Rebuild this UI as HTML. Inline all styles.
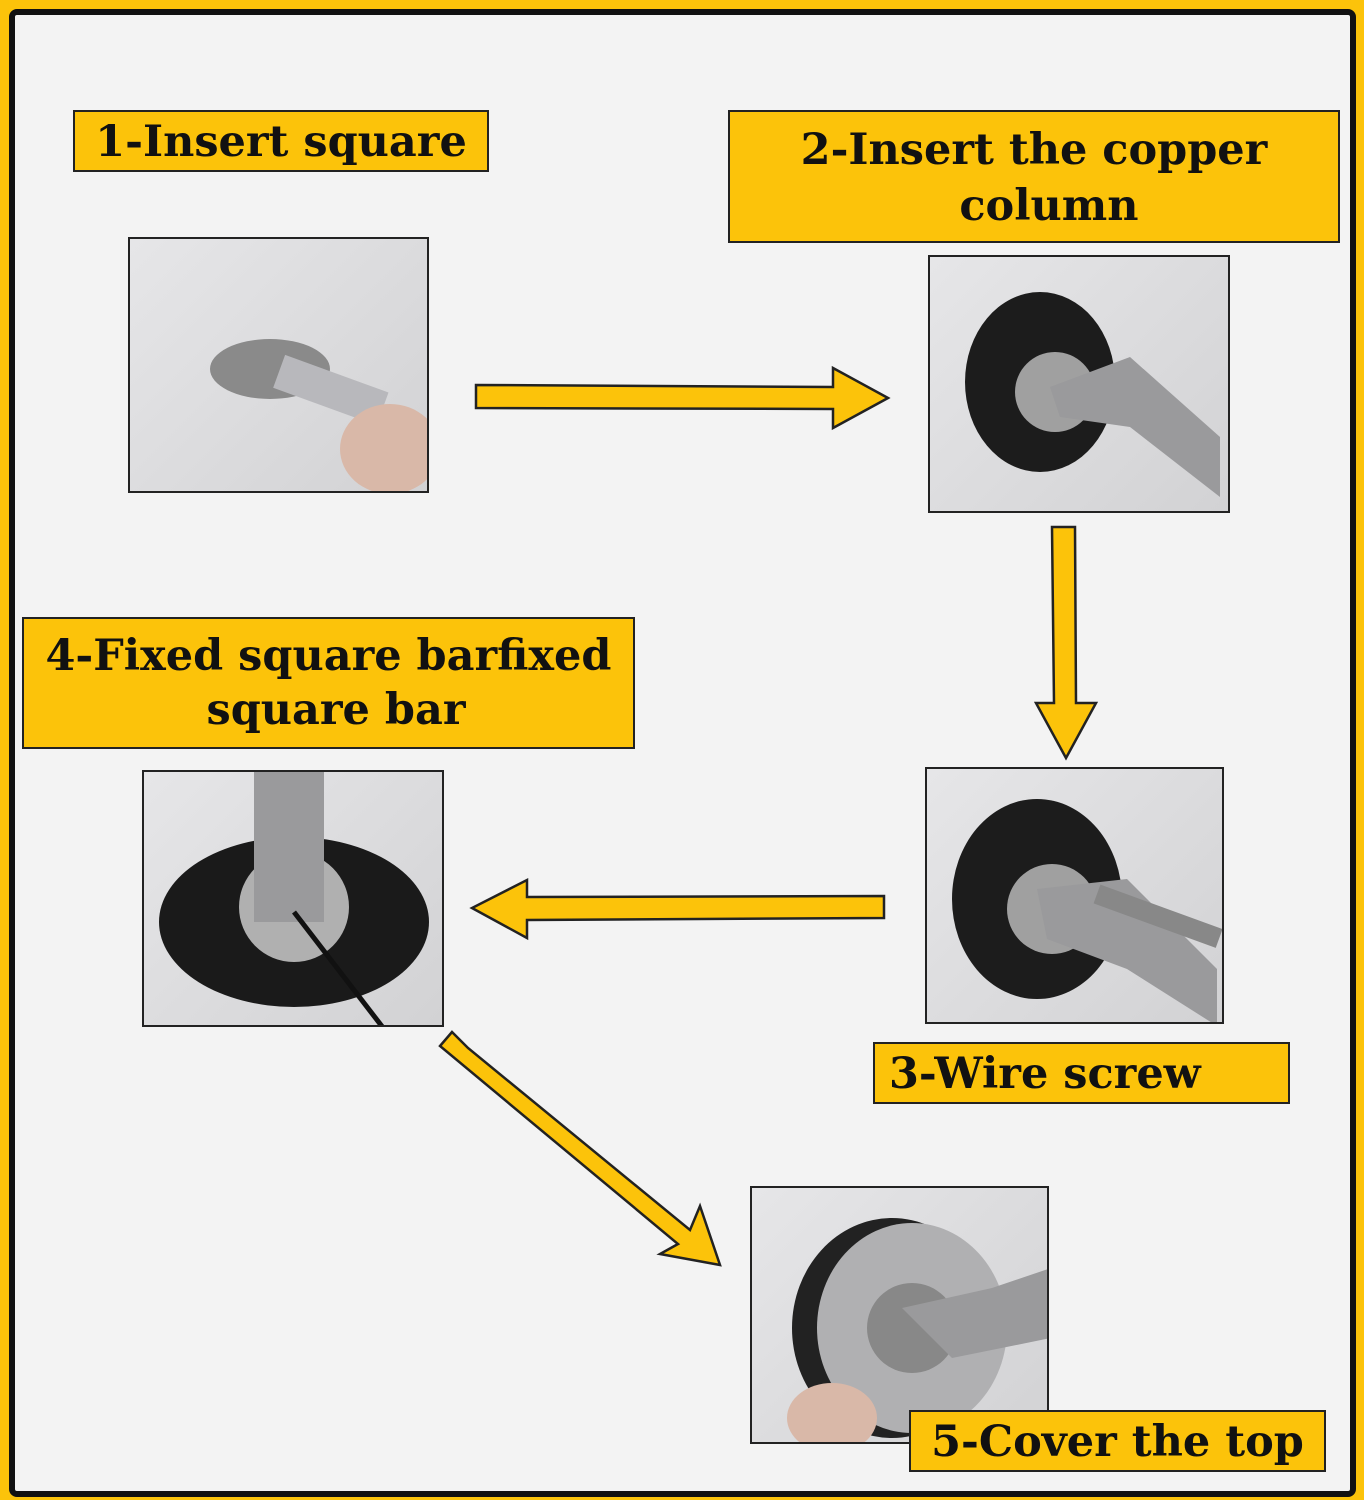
<!DOCTYPE html>
<html><head><meta charset="utf-8"><style>
body{margin:0;width:1364px;height:1500px;background:#fcc30a;position:relative;overflow:hidden;font-family:"DejaVu Serif","Liberation Serif",serif}
#frame{position:absolute;left:9px;top:9px;width:1335px;height:1476px;border:6px solid #111;border-radius:8px;background:#f3f3f3}
.lab{position:absolute;background:#fcc30a;border:2px solid #222;box-sizing:border-box;font-weight:bold;color:#111;text-align:center;line-height:1.3;z-index:5;white-space:nowrap}
.ph{position:absolute;border:2px solid #222;box-sizing:border-box;overflow:hidden;background:linear-gradient(135deg,#e6e6e8,#d2d2d4)}
</style></head><body>
<div id="frame"></div>
<div class="lab" style="left:73px;top:110px;width:416px;height:62px;font-size:43px;line-height:60px">1-Insert square</div>
<div class="lab" style="left:728px;top:110px;width:612px;height:133px;font-size:43px;padding-top:10px;line-height:56px">2-Insert the copper<br>&nbsp;&nbsp;column</div>
<div class="lab" style="left:22px;top:617px;width:613px;height:132px;font-size:43px;padding-top:10px;line-height:54px">4-Fixed square barfixed<br>&nbsp;square bar</div>
<div class="lab" style="left:873px;top:1042px;width:417px;height:62px;font-size:43px;line-height:60px;text-align:left;padding-left:14px">3-Wire screw</div>
<div class="lab" style="left:909px;top:1410px;width:417px;height:62px;font-size:43px;line-height:60px">5-Cover the top</div>

<div class="ph" style="left:128px;top:237px;width:301px;height:256px">
<svg width="301" height="256"><ellipse cx="140" cy="130" rx="60" ry="30" fill="#8a8a8a"/><rect x="150" y="115" width="110" height="35" fill="#b8b8bc" transform="rotate(20 150 130)"/><ellipse cx="260" cy="210" rx="50" ry="45" fill="#d9b8a8"/></svg></div>
<div class="ph" style="left:928px;top:255px;width:302px;height:258px">
<svg width="302" height="258"><ellipse cx="110" cy="125" rx="75" ry="90" fill="#1c1c1c"/><circle cx="125" cy="135" r="40" fill="#a0a0a0"/><path d="M120 130 L200 100 L290 180 L290 240 L200 170 L130 160Z" fill="#9a9a9c"/></svg></div>
<div class="ph" style="left:142px;top:770px;width:302px;height:257px">
<svg width="302" height="257"><ellipse cx="150" cy="150" rx="135" ry="85" fill="#1a1a1a"/><circle cx="150" cy="135" r="55" fill="#b0b0b0"/><rect x="110" y="0" width="70" height="150" fill="#9a9a9c"/><line x1="150" y1="140" x2="240" y2="257" stroke="#111" stroke-width="5"/></svg></div>
<div class="ph" style="left:925px;top:767px;width:299px;height:257px">
<svg width="299" height="257"><ellipse cx="110" cy="130" rx="85" ry="100" fill="#1c1c1c"/><circle cx="125" cy="140" r="45" fill="#a0a0a0"/><path d="M110 120 L200 110 L290 200 L290 257 L200 200 L120 170Z" fill="#9a9a9c"/><rect x="170" y="115" width="130" height="20" fill="#888" transform="rotate(20 170 125)"/></svg></div>
<div class="ph" style="left:750px;top:1186px;width:299px;height:258px">
<svg width="299" height="258"><ellipse cx="140" cy="140" rx="100" ry="110" fill="#222"/><ellipse cx="160" cy="140" rx="95" ry="105" fill="#b0b0b2"/><circle cx="160" cy="140" r="45" fill="#888"/><path d="M150 120 L240 100 L299 80 L299 150 L200 170Z" fill="#9a9a9c"/><ellipse cx="80" cy="230" rx="45" ry="35" fill="#d9b8a8"/></svg></div>

<svg width="1364" height="1500" style="position:absolute;left:0;top:0">
<g fill="#fcc30a" stroke="#222" stroke-width="2.5" stroke-linejoin="miter">
<polygon points="476,385 833,387 833,368 888,398 833,428 833,409 476,408"/>
<polygon points="1052,527 1075,527 1076,703 1096,703 1066,758 1036,703 1054,703"/>
<polygon points="884,896 884,918 527,920 527,938 472,908 527,880 527,897"/>
<polygon points="452,1032 468,1048 690,1230 700,1206 720,1265 660,1254 678,1244 440,1046"/>
</g></svg>
</body></html>
